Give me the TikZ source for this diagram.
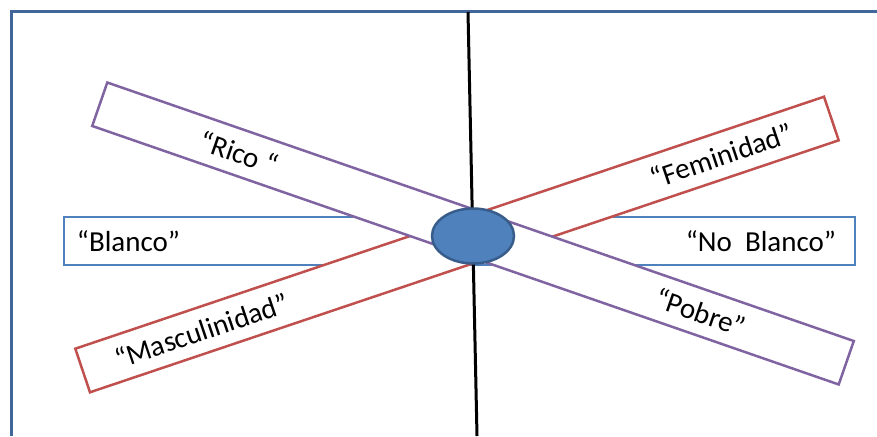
\documentclass[tikz,border=0pt]{standalone}
\usepackage{fontspec}
\setmainfont{Carlito}
\usetikzlibrary{shapes.geometric, positioning, calc}

\definecolor{framecol}{HTML}{41679A}
\definecolor{boxblue}{HTML}{4F81BD}
\definecolor{stripred}{HTML}{C0504D}
\definecolor{strippurple}{HTML}{8064A2}
\definecolor{blobedge}{HTML}{385D8A}

\begin{document}
\begin{tikzpicture}[x=1pt, y=-1pt]
    % Define styles
    \tikzstyle{strip} = [rectangle, fill=white, line width=2.5pt, minimum width=790pt, minimum height=46pt, inner sep=0pt]
    \tikzstyle{bar} = [rectangle, draw=boxblue, fill=white, line width=2.5pt, minimum width=791pt, minimum height=48pt, inner sep=0pt]
    \tikzstyle{word} = [inner sep=0pt, font=\fontsize{29}{34}\selectfont]
    \tikzstyle{blob} = [ellipse, draw=blobedge, fill=boxblue, line width=2.5pt, minimum width=82pt, minimum height=55pt]

    \useasboundingbox (0,0) rectangle (877,436);

    % Frame
    \draw[framecol, line width=3pt] (11,436) -- (11,12) -- (877,12);

    % Horizontal bar
    \node[bar] (bar) at (459.5,241) {};

    % Diagonal strips
    \node[strip, draw=stripred, rotate=18.6] (red) at (457,244.5) {};
    \node[strip, draw=strippurple, rotate=-19.1] (purple) at (473,233.5) {};

    % Vertical axis
    \coordinate (axtop) at (468,12);
    \coordinate (axbot) at (477,436);
    \draw[line width=3pt] (axtop) -- (axbot);

    % Centre
    \node[blob] (centre) at (473,236) {};

    % Labels
    \node[word, anchor=west] (blanco) at ([xshift=14pt]bar.west) {“Blanco”};
    \node[word, anchor=east] (noblanco) at ([xshift=-20pt]bar.east) {“No\ \ Blanco”};
    \node[word, rotate=-19.1] (rico) at ($(purple.west)!0.188!(purple.east)$) {“Rico “};
    \node[word, rotate=-19.1] (pobre) at ($(purple.west)!0.804!(purple.east)$) {“Pobre”};
    \node[word, rotate=18.6] (masc) at ($(red.west)!0.16!(red.east)$) {“Masculinidad”};
    \node[word, rotate=18.6] (fem) at ($(red.west)!0.852!(red.east)$) {“Feminidad”};

\end{tikzpicture}
\end{document}
